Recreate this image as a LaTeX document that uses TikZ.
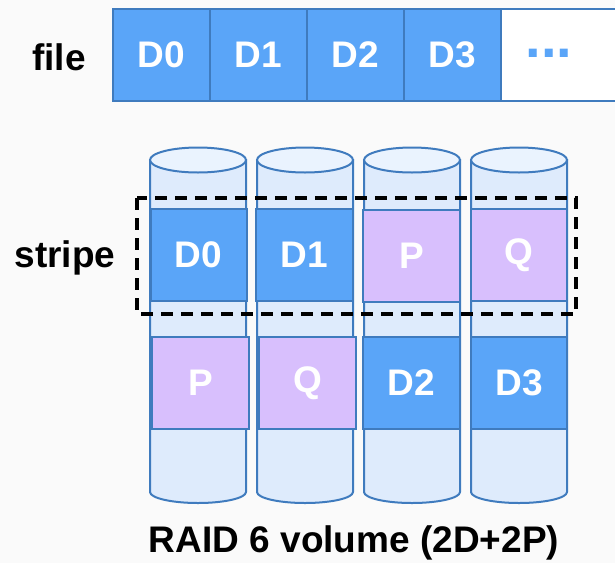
\documentclass[tikz,border=0pt]{standalone}
\usepackage{fontspec}
\setmainfont{Liberation Sans}
\begin{document}
\begin{tikzpicture}[x=1pt,y=-1pt,
  every node/.style={font=\fontsize{37}{37}\selectfont\bfseries},
  cell/.style={draw=edgeblue, line width=2pt, fill=datablue, text=white,
    minimum width=97pt, minimum height=92pt, inner sep=0pt, anchor=center},
  datablk/.style={draw=edgeblue, line width=2pt, fill=datablue, text=white,
    minimum width=96pt, minimum height=92pt, inner sep=0pt},
  parblk/.style={datablk, fill=parpurple},
  disk/.style={draw=edgeblue, line width=2pt, fill=diskfill},
  label/.style={text=black, inner sep=0pt}]

\definecolor{datablue}{HTML}{5AA5F8}
\definecolor{edgeblue}{HTML}{3F7BBE}
\definecolor{parpurple}{HTML}{D8BFFD}
\definecolor{diskfill}{HTML}{DEEBFC}
\definecolor{disktop}{HTML}{EAF3FE}
\definecolor{bg}{HTML}{FAFAFA}

\fill[bg] (0,0) rectangle (615,563);
\useasboundingbox (0,0) rectangle (615,563);

% the file as a row of data cells
\node[label] (file) at (59,57) {file};
\node[cell] (f0) at (161.5,55) {D0};
\node[cell] (f1) at (258.5,55) {D1};
\node[cell] (f2) at (355.5,55) {D2};
\node[cell] (f3) at (452.5,55) {D3};
\node[cell, fill=white, minimum width=140pt] (f4) at (571,55) {};
\node[text=datablue, font=\fontsize{56}{56}\selectfont\bfseries, inner sep=0pt] (more) at (549,53) {...};

% four disks
\foreach \xa/\xb in {150/246, 257/353, 364/460, 471/567}{
  \pgfmathsetmacro{\cx}{(\xa+\xb)/2}
  \pgfmathsetmacro{\rx}{(\xb-\xa)/2}
  \filldraw[disk] (\xa,160) -- (\xa,492)
    .. controls (\xa,498) and (\cx-0.552*\rx,503) .. (\cx,503)
    .. controls (\cx+0.552*\rx,503) and (\xb,498) .. (\xb,492)
    -- (\xb,160) -- cycle;
  \filldraw[disk, fill=disktop] (\cx,160) ellipse [x radius=\rx, y radius=12.5];
}

% first stripe
\node[datablk] (s1a) at (198.5,255) {D0};
\node[datablk, minimum width=97pt] (s1b) at (304.5,255) {D1};
\node[parblk, minimum width=97pt] (s1c) at (411.5,256) {P};
\node[parblk] (s1d) at (519,255) {Q};

% second stripe
\node[parblk, minimum width=97pt] (s2a) at (200.5,383) {P};
\node[parblk, minimum width=97pt] (s2b) at (307.5,383) {Q};
\node[datablk, minimum width=97pt] (s2c) at (411.5,383) {D2};
\node[datablk] (s2d) at (519,383) {D3};

% stripe outline
\draw[black, line width=3.4pt, dash pattern=on 12pt off 8pt] (137,198) rectangle (576,314);
\node[label] (stripe) at (65,258) {stripe};

\node[label] (title) at (354,543) {RAID 6 volume (2D+2P)};
\end{tikzpicture}
\end{document}
